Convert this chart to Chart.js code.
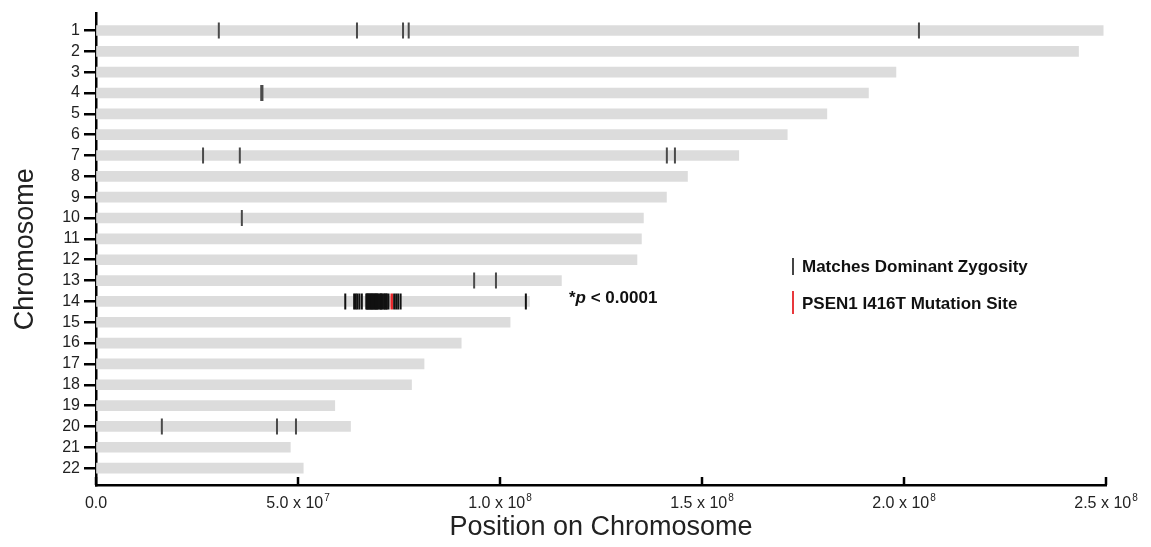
<!DOCTYPE html>
<html>
<head>
<meta charset="utf-8">
<script src="https://cdn.jsdelivr.net/npm/chart.js@4/dist/chart.umd.min.js"></script>
<style>
html,body{margin:0;padding:0;background:#fff;}
#wrap{width:1151px;height:547px;position:relative;}
</style>
</head>
<body>
<div id="wrap"><canvas id="c" width="1151" height="547"></canvas></div>
<script>
// ---------- data ----------
const chromosomes = [1,2,3,4,5,6,7,8,9,10,11,12,13,14,15,16,17,18,19,20,21,22];
const chromLengthsMb = [249.3,243.2,198.0,191.2,180.9,171.1,159.1,146.4,141.2,135.5,135.0,133.9,115.2,107.3,102.5,90.4,81.2,78.1,59.1,63.0,48.1,51.3];

// isolated marks that match dominant zygosity
const matchChrom = [1,1,1,1,1, 4,4, 7,7,7,7, 10, 13,13, 20,20,20];
const matchPosMb = [30.4,64.6,76.0,77.4,203.7, 40.9,41.2, 26.5,35.6,141.3,143.3, 36.1, 93.6,99.0, 16.3,44.8,49.5];

// dense cluster on chromosome 14
const clusterChrom = 14;
const clusterPosMb = [61.7,63.9,64.3,64.7,65.2,65.8,
  66.9,67.1,67.3,67.5,67.7,67.9,68.1,68.3,68.5,68.7,68.9,69.1,69.3,69.5,69.7,69.9,
  70.3,70.5,70.7,70.9,71.3,71.5,71.8,72.0,72.4,73.8,74.3,74.8,75.4,106.4];

// PSEN1 I416T mutation site
const mutationChrom = [14];
const mutationPosMb = [73.2];

const xTickValues = [0, 5e7, 1e8, 1.5e8, 2e8, 2.5e8];
const xTickMantissa = ['0.0', '5.0 x 10', '1.0 x 10', '1.5 x 10', '2.0 x 10', '2.5 x 10'];
const xTickExponent = ['', '7', '8', '8', '8', '8'];
const xTitle = 'Position on Chromosome';
const yTitle = 'Chromosome';
const legendLabels = ['Matches Dominant Zygosity', 'PSEN1 I416T Mutation Site'];
const pValueText = ['*', 'p', ' < 0.0001'];

// ---------- chart ----------
const FONT = "'Liberation Sans', Arial, Helvetica, sans-serif";
Chart.defaults.font.family = FONT;
Chart.defaults.color = '#222';

const MB = 1e6;
const barData = chromosomes.map((c, i) => ({x: chromLengthsMb[i] * MB, y: c}));
const matchData = matchChrom.map((c, i) => ({x: matchPosMb[i] * MB, y: c}));
const clusterData = clusterPosMb.map(p => ({x: p * MB, y: clusterChrom}));
const mutationData = mutationChrom.map((c, i) => ({x: mutationPosMb[i] * MB, y: c}));

const markStyle = {
  type: 'scatter', indexAxis: 'x', showLine: false,
  pointStyle: 'line', pointRotation: 90, pointRadius: 8, pointHoverRadius: 8,
  pointBorderWidth: 2, pointHoverBorderWidth: 2
};

const overlayPlugin = {
  id: 'overlay',
  afterDraw(chart) {
    const ctx = chart.ctx;
    const xs = chart.scales.x;
    const area = chart.chartArea;
    ctx.save();
    // inward x-axis tick marks and labels with superscript exponents
    ctx.strokeStyle = '#000';
    ctx.lineWidth = 2.5;
    ctx.fillStyle = '#222';
    ctx.textBaseline = 'alphabetic';
    ctx.textAlign = 'left';
    xTickValues.forEach((v, i) => {
      const px = xs.getPixelForValue(v);
      ctx.beginPath();
      ctx.moveTo(px, area.bottom);
      ctx.lineTo(px, area.bottom - 8);
      ctx.stroke();
      ctx.font = '16px ' + FONT;
      const wm = ctx.measureText(xTickMantissa[i]).width;
      ctx.font = '10px ' + FONT;
      const we = xTickExponent[i] ? ctx.measureText(xTickExponent[i]).width + 1 : 0;
      const x0 = px - (wm + we) / 2;
      const base = area.bottom + 23;
      ctx.font = '16px ' + FONT;
      ctx.fillText(xTickMantissa[i], x0, base);
      if (xTickExponent[i]) {
        ctx.font = '10px ' + FONT;
        ctx.fillText(xTickExponent[i], x0 + wm + 1, base - 7);
      }
    });
    // legend
    ctx.lineWidth = 2;
    ctx.strokeStyle = '#444';
    ctx.beginPath(); ctx.moveTo(793, 258); ctx.lineTo(793, 275); ctx.stroke();
    ctx.strokeStyle = '#e8383c';
    ctx.beginPath(); ctx.moveTo(793, 291); ctx.lineTo(793, 314); ctx.stroke();
    ctx.fillStyle = '#111';
    ctx.textBaseline = 'middle';
    ctx.textAlign = 'left';
    ctx.font = 'bold 17px ' + FONT;
    ctx.fillText(legendLabels[0], 802, 267);
    ctx.fillText(legendLabels[1], 802, 304);
    // p-value annotation
    let x = 569;
    const y = 298;
    ctx.font = 'bold 17px ' + FONT;
    ctx.fillText(pValueText[0], x, y); x += ctx.measureText(pValueText[0]).width;
    ctx.font = 'italic bold 17px ' + FONT;
    ctx.fillText(pValueText[1], x, y); x += ctx.measureText(pValueText[1]).width;
    ctx.font = 'bold 17px ' + FONT;
    ctx.fillText(pValueText[2], x, y);
    ctx.restore();
  }
};

new Chart(document.getElementById('c'), {
  type: 'bar',
  data: {
    datasets: [
      Object.assign({}, markStyle, {label: 'mutation', data: mutationData, pointBorderColor: '#e8262a', pointBorderWidth: 2.5, order: 0}),
      Object.assign({}, markStyle, {label: 'cluster', data: clusterData, pointBorderColor: '#111', order: 1}),
      Object.assign({}, markStyle, {label: 'match', data: matchData, pointBorderColor: '#4a4a4a', order: 2}),
      {type: 'bar', label: 'chromosomes', indexAxis: 'y', data: barData, backgroundColor: '#dcdcdc', borderWidth: 0, barThickness: 10, order: 3}
    ]
  },
  options: {
    indexAxis: 'y',
    responsive: false,
    devicePixelRatio: 1,
    animation: false,
    layout: {padding: {top: 12, right: 45, left: 0, bottom: 0}},
    plugins: {legend: {display: false}, tooltip: {enabled: false}},
    scales: {
      x: {
        type: 'linear', position: 'bottom', min: 0, max: 2.5e8, offset: false,
        afterBuildTicks: s => { s.ticks = xTickValues.map(v => ({value: v})); },
        afterFit: s => { s.height = 62; },
        border: {display: true, color: '#000', width: 2.5},
        grid: {display: true, drawOnChartArea: false, drawTicks: false, offset: false},
        ticks: {display: false},
        title: {display: true, text: xTitle, color: '#222', font: {size: 27}, padding: {top: 0, bottom: 3}}
      },
      y: {
        type: 'linear', position: 'left', reverse: true, min: 0.19, max: 22.81, offset: false,
        afterBuildTicks: s => { s.ticks = chromosomes.map(v => ({value: v})); },
        afterFit: s => { s.width = 96; },
        border: {display: true, color: '#000', width: 2.5},
        grid: {display: true, offset: false, drawOnChartArea: false, drawTicks: true, tickLength: 12, color: '#000', lineWidth: 2.5},
        ticks: {padding: 4, color: '#222', font: {size: 16}, autoSkip: false, callback: v => String(v)},
        title: {display: true, text: yTitle, color: '#222', font: {size: 27}, padding: {top: 9, bottom: 0}}
      }
    }
  },
  plugins: [overlayPlugin]
});
</script>
</body>
</html>
